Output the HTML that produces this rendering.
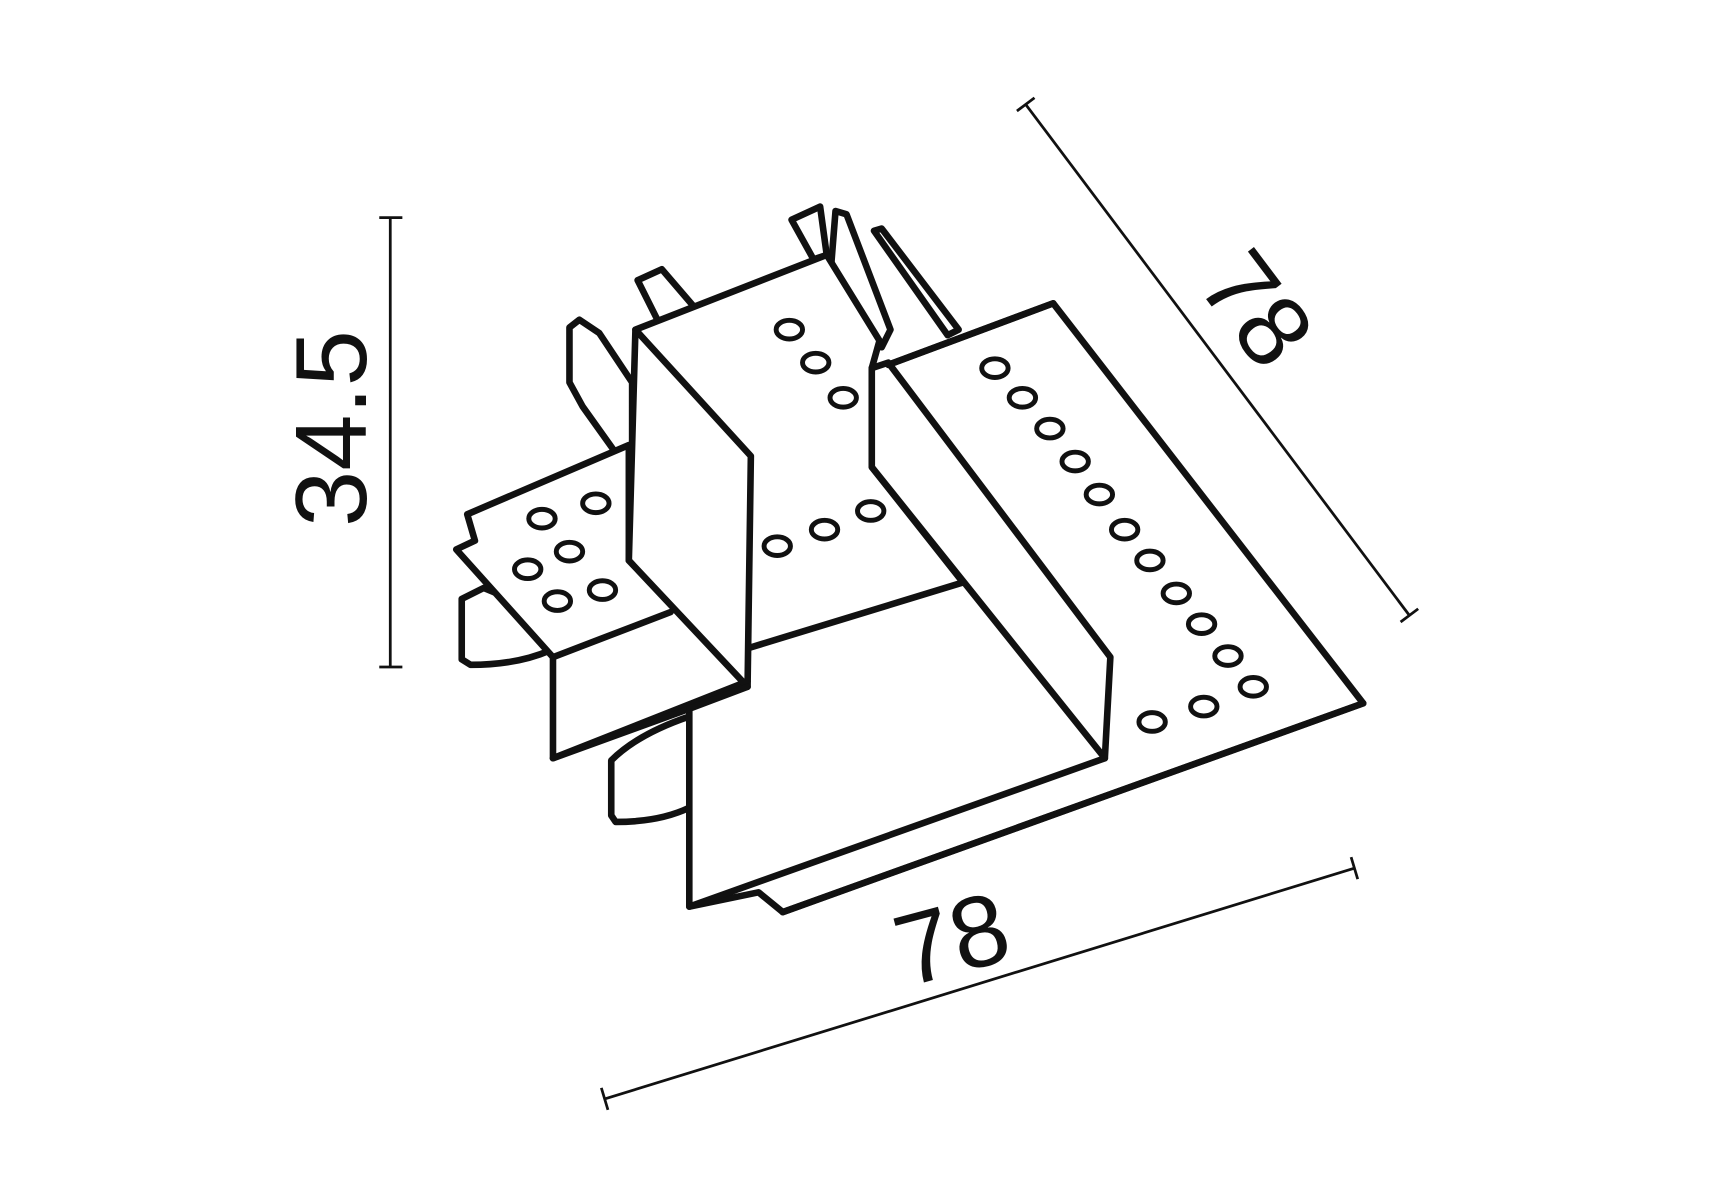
<!DOCTYPE html>
<html><head><meta charset="utf-8"><style>
html,body{margin:0;padding:0;background:#fff;}
svg{display:block}
</style></head><body>
<svg width="1715" height="1200" viewBox="0 0 1560 1092" preserveAspectRatio="none" xmlns="http://www.w3.org/2000/svg">
<g fill="#fff" stroke="#111" stroke-width="6" stroke-linejoin="round" stroke-linecap="round">
<!-- top small tabs -->
<polygon points="580,255 602,245 632,280 600,295"/>
<polygon points="720,200 746,188 752,232 740,236"/>
<polygon points="795,210 802,208 872,300 862,305"/>
<polygon points="760,192 770,195 810,300 802,316 755,255"/>
<!-- left tabs -->
<path d="M518,298 L527,291 L545,303 L575,348 L575,408 L560,412 L530,370 L518,348 Z"/>
<path d="M420,545 L440,535 L500,560 L500,592 Q470,605 428,605 L420,600 Z"/>
<path d="M556,692 Q580,668 627,652 L627,735 Q600,748 560,748 L556,742 Z"/>
<!-- bottom plate -->
<polygon points="808,332 958,276 1240,640 712,830 690,812 627,825 627,645 793,425"/>
<!-- left plate -->
<polygon points="425,468 572,405 572,510 680,620 503,690 503,598 415,500 432,492"/>
<!-- mid back -->
<polygon points="578,300 752,232 800,310 793,335 793,425 876,530 680,590 680,415"/>
<!-- right tall box -->
<polygon points="793,335 808,330 1010,598 1005,690 793,425"/>
<line x1="808" y1="332" x2="958" y2="276"/>
<!-- middle box face -->
<polygon points="578,300 683,415 680,625 572,510"/>
</g>
<g fill="none" stroke="#111" stroke-width="6" stroke-linecap="round">
<line x1="503" y1="598" x2="610" y2="557"/>
<line x1="503" y1="690" x2="627" y2="645"/>
<line x1="627" y1="645" x2="680" y2="625"/>
<line x1="627" y1="825" x2="1005" y2="690"/>
<line x1="712" y1="830" x2="1240" y2="640"/>
</g>
<g fill="none" stroke="#111" stroke-width="4.5">
<ellipse cx="905" cy="335" rx="12" ry="8.5"/><ellipse cx="930" cy="362" rx="12" ry="8.5"/>
<ellipse cx="955" cy="390" rx="12" ry="8.5"/><ellipse cx="978" cy="420" rx="12" ry="8.5"/>
<ellipse cx="1000" cy="450" rx="12" ry="8.5"/><ellipse cx="1023" cy="482" rx="12" ry="8.5"/>
<ellipse cx="1046" cy="510" rx="12" ry="8.5"/><ellipse cx="1070" cy="540" rx="12" ry="8.5"/>
<ellipse cx="1093" cy="568" rx="12" ry="8.5"/><ellipse cx="1117" cy="597" rx="12" ry="8.5"/>
<ellipse cx="1140" cy="625" rx="12" ry="8.5"/><ellipse cx="1095" cy="643" rx="12" ry="8.5"/>
<ellipse cx="1048" cy="657" rx="12" ry="8.5"/>
<ellipse cx="718" cy="300" rx="12" ry="8.5"/><ellipse cx="742" cy="330" rx="12" ry="8.5"/>
<ellipse cx="767" cy="362" rx="12" ry="8.5"/>
<ellipse cx="707" cy="497" rx="12" ry="8.5"/><ellipse cx="750" cy="482" rx="12" ry="8.5"/>
<ellipse cx="792" cy="465" rx="12" ry="8.5"/>
<ellipse cx="493" cy="472" rx="12" ry="8.5"/><ellipse cx="542" cy="458" rx="12" ry="8.5"/>
<ellipse cx="518" cy="502" rx="12" ry="8.5"/><ellipse cx="480" cy="518" rx="12" ry="8.5"/>
<ellipse cx="507" cy="547" rx="12" ry="8.5"/><ellipse cx="548" cy="537" rx="12" ry="8.5"/>
</g>
<!-- dimensions -->
<g stroke="#111" stroke-width="2.5" fill="none">
<line x1="355" y1="198" x2="355" y2="607"/>
<line x1="345" y1="198" x2="366" y2="198"/><line x1="345" y1="607" x2="366" y2="607"/>
<line x1="933" y1="95" x2="1282" y2="560"/>
<line x1="925" y1="101" x2="941" y2="89"/><line x1="1274" y1="566" x2="1290" y2="554"/>
<line x1="550" y1="1000" x2="1232" y2="790"/>
<line x1="547" y1="990" x2="553" y2="1010"/><line x1="1229" y1="780" x2="1235" y2="800"/>
</g>
<g font-family="'Liberation Sans',sans-serif" font-size="92" fill="#111" text-anchor="middle">
<text transform="translate(333,390) rotate(-90)">34.5</text>
<text transform="translate(1118,300) rotate(53)">78</text>
<text transform="translate(874,885) rotate(-15)">78</text>
</g>
</svg>
</body></html>
